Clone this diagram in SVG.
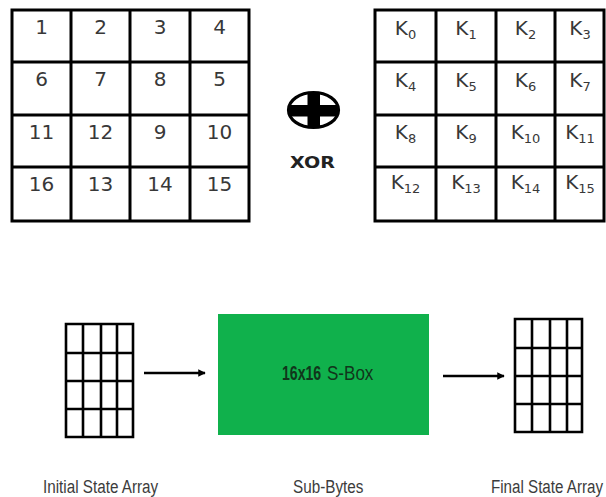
<svg xmlns="http://www.w3.org/2000/svg" width="606" height="497" viewBox="0 0 606 497">
  <style>
    .grid { fill: none; stroke: #000; stroke-width: 3; }
    .mini { fill: none; stroke: #000; stroke-width: 2.6; }
    .num { font-family: "DejaVu Sans", "Liberation Sans", sans-serif; font-size: 20px; fill: #383838; text-anchor: middle; }
    .key { font-family: "DejaVu Sans", "Liberation Sans", sans-serif; font-size: 20px; fill: #383838; text-anchor: middle; }
    .sub { font-size: 13px; }
    .label { font-family: "Liberation Sans", "DejaVu Sans", sans-serif; font-size: 19px; fill: #3c3c3c; }
    .conn { stroke: #000; stroke-width: 2.5; fill: none; }
  </style>
  <defs>
    <marker id="arrow" viewBox="0 0 10 10" refX="9" refY="5" markerWidth="3" markerHeight="3" orient="auto">
      <path d="M0,0 L10,5 L0,10 z" fill="#000"/>
    </marker>
  </defs>
  <rect width="606" height="497" fill="#fff"/>

  <!-- state matrix -->
  <g id="state-matrix">
    <path class="grid" d="M12,10 H249 V221 H12 Z M71,10 V221 M130,10 V221 M190,10 V221 M12,62 H249 M12,115 H249 M12,167 H249"/>
    <text class="num" x="41.5" y="34">1</text>
    <text class="num" x="100.5" y="34">2</text>
    <text class="num" x="160" y="34">3</text>
    <text class="num" x="219.5" y="34">4</text>
    <text class="num" x="41.5" y="86">6</text>
    <text class="num" x="100.5" y="86">7</text>
    <text class="num" x="160" y="86">8</text>
    <text class="num" x="219.5" y="86">5</text>
    <text class="num" x="41.5" y="139">11</text>
    <text class="num" x="100.5" y="139">12</text>
    <text class="num" x="160" y="139">9</text>
    <text class="num" x="219.5" y="139">10</text>
    <text class="num" x="41.5" y="191">16</text>
    <text class="num" x="100.5" y="191">13</text>
    <text class="num" x="160" y="191">14</text>
    <text class="num" x="219.5" y="191">15</text>
  </g>

  <!-- XOR operator -->
  <g id="xor">
    <ellipse cx="313.5" cy="110" rx="25" ry="17.5" fill="none" stroke="#000" stroke-width="3.2"/>
    <rect x="307.5" y="93" width="12.5" height="34" fill="#000"/>
    <rect x="289" y="105" width="49" height="11.5" fill="#000"/>
    <text x="312.5" y="168" font-family="DejaVu Sans, Liberation Sans, sans-serif" font-size="15" font-weight="bold" fill="#222" text-anchor="middle" textLength="45" lengthAdjust="spacingAndGlyphs">XOR</text>
  </g>

  <!-- round key matrix -->
  <g id="key-matrix">
    <path class="grid" d="M375,10 H604 V221 H375 Z M436,10 V221 M496,10 V221 M555,10 V221 M375,62 H604 M375,115 H604 M375,167 H604"/>
    <text class="key" x="405.5" y="35">K<tspan class="sub" dy="4">0</tspan></text>
    <text class="key" x="466" y="35">K<tspan class="sub" dy="4">1</tspan></text>
    <text class="key" x="525.5" y="35">K<tspan class="sub" dy="4">2</tspan></text>
    <text class="key" x="580" y="35">K<tspan class="sub" dy="4">3</tspan></text>
    <text class="key" x="405.5" y="87">K<tspan class="sub" dy="4">4</tspan></text>
    <text class="key" x="466" y="87">K<tspan class="sub" dy="4">5</tspan></text>
    <text class="key" x="525.5" y="87">K<tspan class="sub" dy="4">6</tspan></text>
    <text class="key" x="580" y="87">K<tspan class="sub" dy="4">7</tspan></text>
    <text class="key" x="405.5" y="139">K<tspan class="sub" dy="4">8</tspan></text>
    <text class="key" x="466" y="139">K<tspan class="sub" dy="4">9</tspan></text>
    <text class="key" x="525.5" y="139">K<tspan class="sub" dy="4">10</tspan></text>
    <text class="key" x="580" y="139">K<tspan class="sub" dy="4">11</tspan></text>
    <text class="key" x="405.5" y="189">K<tspan class="sub" dy="4">12</tspan></text>
    <text class="key" x="466" y="189">K<tspan class="sub" dy="4">13</tspan></text>
    <text class="key" x="525.5" y="189">K<tspan class="sub" dy="4">14</tspan></text>
    <text class="key" x="580" y="189">K<tspan class="sub" dy="4">15</tspan></text>
  </g>

  <!-- initial state array -->
  <g id="initial-state">
    <path class="mini" d="M66,324 H133 V437 H66 Z M83,324 V437 M101,324 V437 M117,324 V437 M66,353 H133 M66,381 H133 M66,409 H133"/>
    <text class="label" transform="translate(43,493) scale(0.8,1)" textLength="144" lengthAdjust="spacingAndGlyphs">Initial State Array</text>
  </g>

  <!-- substitution box -->
  <g id="sbox">
    <rect x="218" y="314" width="211" height="121" fill="#10B14C"/>
    <text transform="translate(282,380) scale(0.8,1)" font-family="Liberation Sans, DejaVu Sans, sans-serif" font-size="20" font-weight="bold" fill="#10361b" textLength="49" lengthAdjust="spacingAndGlyphs">16x16</text>
    <text transform="translate(327,380) scale(0.8,1)" font-family="Liberation Sans, DejaVu Sans, sans-serif" font-size="21" fill="#10361b" textLength="58" lengthAdjust="spacingAndGlyphs">S-Box</text>
    <text class="label" transform="translate(293,493) scale(0.8,1)" textLength="88" lengthAdjust="spacingAndGlyphs">Sub-Bytes</text>
  </g>

  <!-- final state array -->
  <g id="final-state">
    <path class="mini" d="M515,319 H582 V432 H515 Z M532,319 V432 M550,319 V432 M567,319 V432 M515,348 H582 M515,376 H582 M515,404 H582"/>
    <text class="label" transform="translate(491,493) scale(0.8,1)" textLength="140" lengthAdjust="spacingAndGlyphs">Final State Array</text>
  </g>

  <!-- connectors -->
  <g id="connectors">
    <line class="conn" x1="144" y1="373" x2="205" y2="373" marker-end="url(#arrow)"/>
    <line class="conn" x1="443" y1="376" x2="504" y2="376" marker-end="url(#arrow)"/>
  </g>
</svg>
